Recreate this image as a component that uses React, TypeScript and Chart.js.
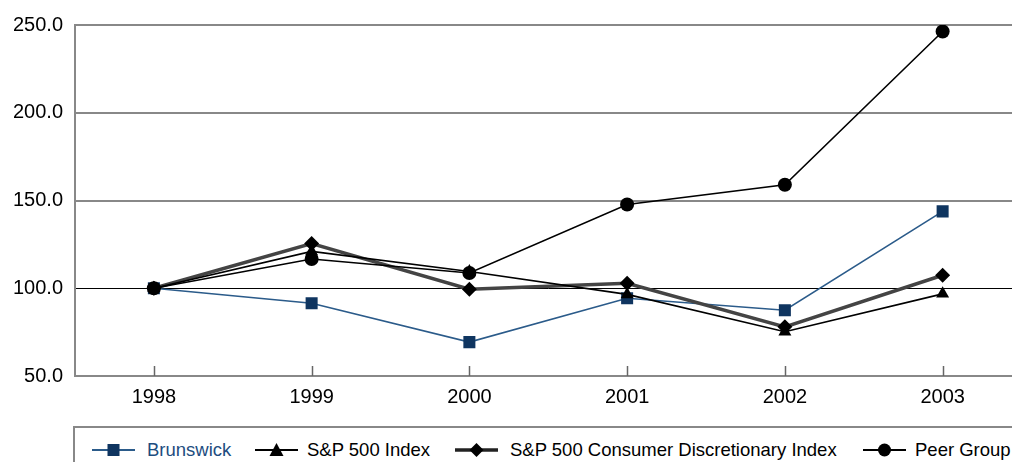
import React, { useEffect, useRef } from "react";
import { Chart, registerables } from "chart.js";

Chart.register(...registerables);

const years = ["1998", "1999", "2000", "2001", "2002", "2003"];
const brunswick = [100, 91.5, 69.3, 94.3, 87.5, 143.8];
const sp500 = [100, 121.0, 109.5, 96.5, 75.2, 96.8];
const consumerDisc = [100, 125.5, 99.5, 102.8, 78.0, 107.4];
const peerGroup = [100, 116.7, 108.7, 147.7, 159.0, 246.3];
const yTicks = [50, 100, 150, 200, 250];

const FONT = "'Liberation Sans', Arial, Helvetica, sans-serif";
const BLUE_LINE = "#2b5b8a";
const BLUE_MARK = "#0f3560";

const legendItems = [
  { label: "Brunswick", marker: "square", lineX: 92, textX: 147, color: BLUE_LINE, mark: BLUE_MARK, text: "#1d4d80", lw: 2 },
  { label: "S&P 500 Index", marker: "triangle", lineX: 255, textX: 307, color: "#000", mark: "#000", text: "#000", lw: 2 },
  { label: "S&P 500 Consumer Discretionary Index", marker: "diamond", lineX: 455, textX: 510, color: "#222", mark: "#000", text: "#000", lw: 3.5 },
  { label: "Peer Group", marker: "circle", lineX: 863, textX: 915, color: "#000", mark: "#000", text: "#000", lw: 2 },
];

const insideTicks = {
  id: "insideTicks",
  afterDraw(chart: any) {
    const x = chart.scales.x;
    const ctx = chart.ctx;
    const bottom = chart.chartArea.bottom;
    ctx.save();
    ctx.strokeStyle = "#666";
    ctx.lineWidth = 1.5;
    years.forEach((_, i) => {
      const px = Math.round(x.getPixelForValue(i)) + 0.5;
      ctx.beginPath();
      ctx.moveTo(px, bottom);
      ctx.lineTo(px, bottom - 10);
      ctx.stroke();
    });
    ctx.restore();
  },
};

function LegendMarker({ item }: { item: any }) {
  const w = 43;
  const h = 20;
  const cx = w / 2;
  const cy = h / 2;
  let shape: any = null;
  if (item.marker === "square") shape = <rect x={cx - 6} y={cy - 6} width={12} height={12} fill={item.mark} />;
  if (item.marker === "triangle") shape = <polygon points={`${cx},${cy - 7} ${cx + 7},${cy + 6} ${cx - 7},${cy + 6}`} fill={item.mark} />;
  if (item.marker === "diamond") shape = <polygon points={`${cx},${cy - 7} ${cx + 7},${cy} ${cx},${cy + 7} ${cx - 7},${cy}`} fill={item.mark} />;
  if (item.marker === "circle") shape = <circle cx={cx} cy={cy} r={6.5} fill={item.mark} />;
  return (
    <svg width={w} height={h} style={{ position: "absolute", left: item.lineX, top: 440 }}>
      <line x1={0} y1={cy} x2={w} y2={cy} stroke={item.color} strokeWidth={item.lw} />
      {shape}
    </svg>
  );
}

export default function App() {
  const ref = useRef<HTMLCanvasElement>(null);
  useEffect(() => {
    document.body.style.margin = "0";
    document.body.style.overflow = "hidden";
    const chart = new Chart(ref.current!, {
      type: "line",
      data: {
        labels: years,
        datasets: [
          {
            label: "Brunswick",
            data: brunswick,
            borderColor: BLUE_LINE,
            borderWidth: 1.6,
            pointStyle: "rect",
            pointRadius: 8.5,
            pointBackgroundColor: BLUE_MARK,
            pointBorderColor: BLUE_MARK,
            pointBorderWidth: 0,
            order: 5,
          },
          {
            label: "S&P 500 Consumer Discretionary Index",
            data: consumerDisc,
            borderColor: "#444",
            borderWidth: 3.5,
            pointStyle: "rectRot",
            pointRadius: 7.5,
            pointBackgroundColor: "#000",
            pointBorderColor: "#000",
            pointBorderWidth: 0,
            order: 4,
          },
          {
            label: "S&P 500 Index",
            data: sp500,
            borderColor: "#000",
            borderWidth: 1.6,
            pointStyle: "triangle",
            pointRadius: 7.5,
            pointBackgroundColor: "#000",
            pointBorderColor: "#000",
            pointBorderWidth: 0,
            order: 3,
          },
          {
            label: "Peer Group",
            data: peerGroup,
            borderColor: "#000",
            borderWidth: 1.6,
            pointStyle: "circle",
            pointRadius: 7,
            pointBackgroundColor: "#000",
            pointBorderColor: "#000",
            pointBorderWidth: 0,
            order: 2,
          },
        ],
      },
      options: {
        responsive: false,
        animation: false,
        layout: { padding: { top: 25, right: 4, left: 0, bottom: 0 } },
        plugins: { legend: { display: false }, tooltip: { enabled: false } },
        elements: { line: { tension: 0 } },
        scales: {
          x: {
            offset: true,
            grid: { display: false, drawTicks: false, offset: true },
            border: { display: true, color: "#888", width: 2 },
            ticks: { color: "#000", font: { family: FONT, size: 20 }, padding: 9, maxRotation: 0 },
            afterFit: (s: any) => { s.height = 44; },
          },
          y: {
            min: 50,
            max: 250,
            afterBuildTicks: (s: any) => { s.ticks = yTicks.map((v) => ({ value: v })); },
            grid: {
              drawTicks: false,
              color: (c: any) => (c.tick && c.tick.value === 100 ? "#000" : "#888"),
              lineWidth: (c: any) => (c.tick && c.tick.value === 100 ? 1 : 2),
            },
            border: { display: true, color: "#888", width: 2 },
            ticks: {
              color: "#000",
              font: { family: FONT, size: 20 },
              padding: 12,
              callback: (v: any) => Number(v).toFixed(1),
            },
            afterFit: (s: any) => { s.width = 75; },
          },
        },
      },
      plugins: [insideTicks],
    });
    return () => chart.destroy();
  }, []);

  return (
    <div style={{ position: "relative", width: 1012, height: 462, overflow: "hidden", background: "#fff" }}>
      <canvas ref={ref} width={1030} height={420} style={{ position: "absolute", left: 0, top: 0 }} />
      <div
        style={{
          position: "absolute",
          left: 73,
          top: 426,
          width: 1000,
          height: 100,
          borderTop: "2px solid #888",
          borderLeft: "2px solid #888",
        }}
      />
      {legendItems.map((item) => (
        <React.Fragment key={item.label}>
          <LegendMarker item={item} />
          <span
            style={{
              position: "absolute",
              left: item.textX,
              top: 439,
              fontFamily: FONT,
              fontSize: 18.5,
              lineHeight: "22px",
              color: item.text,
              whiteSpace: "nowrap",
            }}
          >
            {item.label}
          </span>
        </React.Fragment>
      ))}
    </div>
  );
}
